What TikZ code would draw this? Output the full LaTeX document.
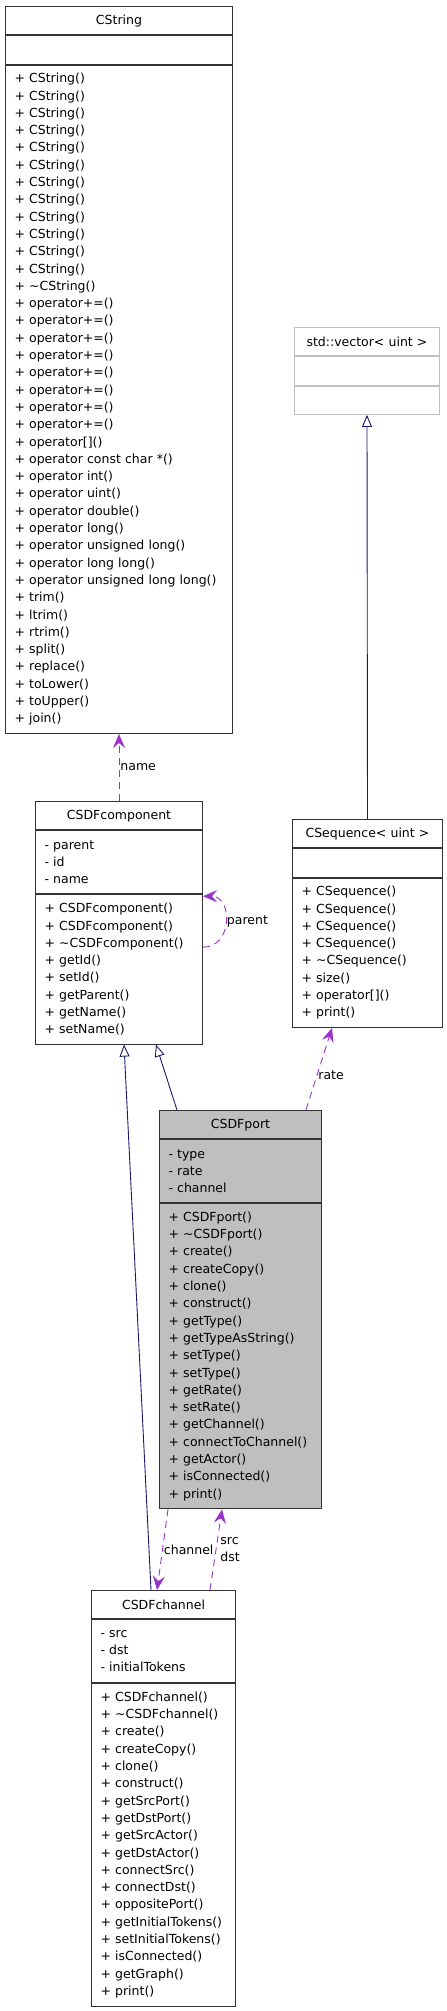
\documentclass[tikz,border=0pt]{standalone}
\usepackage{fontspec}
\setmainfont{DejaVu Sans}
\usetikzlibrary{positioning,arrows.meta}
\definecolor{midnight}{HTML}{191970}
\definecolor{orchid}{HTML}{9A32CD}
\definecolor{grey75}{HTML}{BFBFBF}
\tikzset{
  box/.style={draw=black!80, line width=1pt, fill=white, inner xsep=9pt, inner ysep=3pt},
  head/.style={box, align=center, minimum height=28.3pt, anchor=north west},
  sec/.style={box, align=left, minimum height={#1*17.3pt+11pt}},
  inh/.style={draw=midnight, line width=0.9pt, -{Triangle[open, length=12pt, width=10pt]}},
  use/.style={draw=orchid, line width=0.9pt, dash pattern=on 7pt off 5pt,
    -{Stealth[length=14pt, width=12pt, inset=5pt, fill=orchid]}},
  lbl/.style={right, inner sep=1pt}
}
\begin{document}
\begin{tikzpicture}[x=1pt, y=-1pt, font=\fontsize{12.5}{17.3}\selectfont]
  \useasboundingbox (0,0) rectangle (447,2011);

  \node[head, text width=209pt] (str) at (5,6) {CString};
  \node[sec=1, text width=209pt, below=0pt of str] (strA) {};
  \node[sec=38, text width=209pt, below=0pt of strA] (strM) {+ CString()\\ + CString()\\ + CString()\\ + CString()\\
    + CString()\\ + CString()\\ + CString()\\ + CString()\\ + CString()\\ + CString()\\ + CString()\\ + CString()\\
    + \textasciitilde CString()\\ + operator+=()\\ + operator+=()\\ + operator+=()\\ + operator+=()\\
    + operator+=()\\ + operator+=()\\ + operator+=()\\ + operator+=()\\ + operator[]()\\
    + operator const char *()\\ + operator int()\\ + operator uint()\\ + operator double()\\
    + operator long()\\ + operator unsigned long()\\ + operator long long()\\
    + operator unsigned long long()\\ + trim()\\ + ltrim()\\ + rtrim()\\ + split()\\ + replace()\\
    + toLower()\\ + toUpper()\\ + join()};

  \node[head, draw=grey75, text width=127pt] (vec) at (294,327) {std::vector< uint >};
  \node[sec=1, draw=grey75, text width=127pt, below=0pt of vec] (vecA) {};
  \node[sec=1, draw=grey75, text width=127pt, below=0pt of vecA] (vecM) {};

  \node[head, text width=149pt] (comp) at (35,801) {CSDFcomponent};
  \node[sec=3, text width=149pt, below=0pt of comp] (compA) {- parent\\ - id\\ - name};
  \node[sec=8, text width=149pt, below=0pt of compA] (compM) {+ CSDFcomponent()\\ + CSDFcomponent()\\
    + \textasciitilde CSDFcomponent()\\ + getId()\\ + setId()\\ + getParent()\\ + getName()\\ + setName()};

  \node[head, text width=132pt] (seq) at (292,819) {CSequence< uint >};
  \node[sec=1, text width=132pt, below=0pt of seq] (seqA) {};
  \node[sec=8, text width=132pt, below=0pt of seqA] (seqM) {+ CSequence()\\ + CSequence()\\ + CSequence()\\
    + CSequence()\\ + \textasciitilde CSequence()\\ + size()\\ + operator[]()\\ + print()};

  \node[head, fill=grey75, text width=144pt] (port) at (159,1110) {CSDFport};
  \node[sec=3, fill=grey75, text width=144pt, below=0pt of port] (portA) {- type\\ - rate\\ - channel};
  \node[sec=17, fill=grey75, text width=144pt, below=0pt of portA] (portM) {+ CSDFport()\\
    + \textasciitilde CSDFport()\\ + create()\\ + createCopy()\\ + clone()\\ + construct()\\ + getType()\\
    + getTypeAsString()\\ + setType()\\ + setType()\\ + getRate()\\ + setRate()\\ + getChannel()\\
    + connectToChannel()\\ + getActor()\\ + isConnected()\\ + print()};

  \node[head, text width=126pt] (chan) at (91,1590) {CSDFchannel};
  \node[sec=3, text width=126pt, below=0pt of chan] (chanA) {- src\\ - dst\\ - initialTokens};
  \node[sec=18, text width=126pt, below=0pt of chanA] (chanM) {+ CSDFchannel()\\
    + \textasciitilde CSDFchannel()\\ + create()\\ + createCopy()\\ + clone()\\ + construct()\\
    + getSrcPort()\\ + getDstPort()\\ + getSrcActor()\\ + getDstActor()\\ + connectSrc()\\
    + connectDst()\\ + oppositePort()\\ + getInitialTokens()\\ + setInitialTokens()\\
    + isConnected()\\ + getGraph()\\ + print()};

  \path (seq.north) edge [inh] (vecM.south)
        ([xshift=18pt]port.north west) edge [inh] ([xshift=121pt]compM.south west)
        ([xshift=60pt]chan.north west) edge [inh] ([xshift=89pt]compM.south west)
        ;
  \path (comp.north) edge [use] node [lbl] {name} (strM.south)
        ([yshift=-53pt]compM.north east) edge [use, out=0, in=0, distance=30pt]
          node [lbl] {parent} ([yshift=-2pt]compM.north east)
        ([xshift=147pt]port.north west) edge [use] node [lbl, pos=0.42] {rate} ([xshift=40pt]seqM.south west)
        ([xshift=9pt]portM.south west) edge [use] node [lbl] {channel} ([xshift=66pt]chan.north west)
        ([xshift=119pt]chan.north west) edge [use] node [lbl, align=left, xshift=3pt] {src\\dst}
          ([xshift=63pt]portM.south west)
        ;
\end{tikzpicture}
\end{document}
